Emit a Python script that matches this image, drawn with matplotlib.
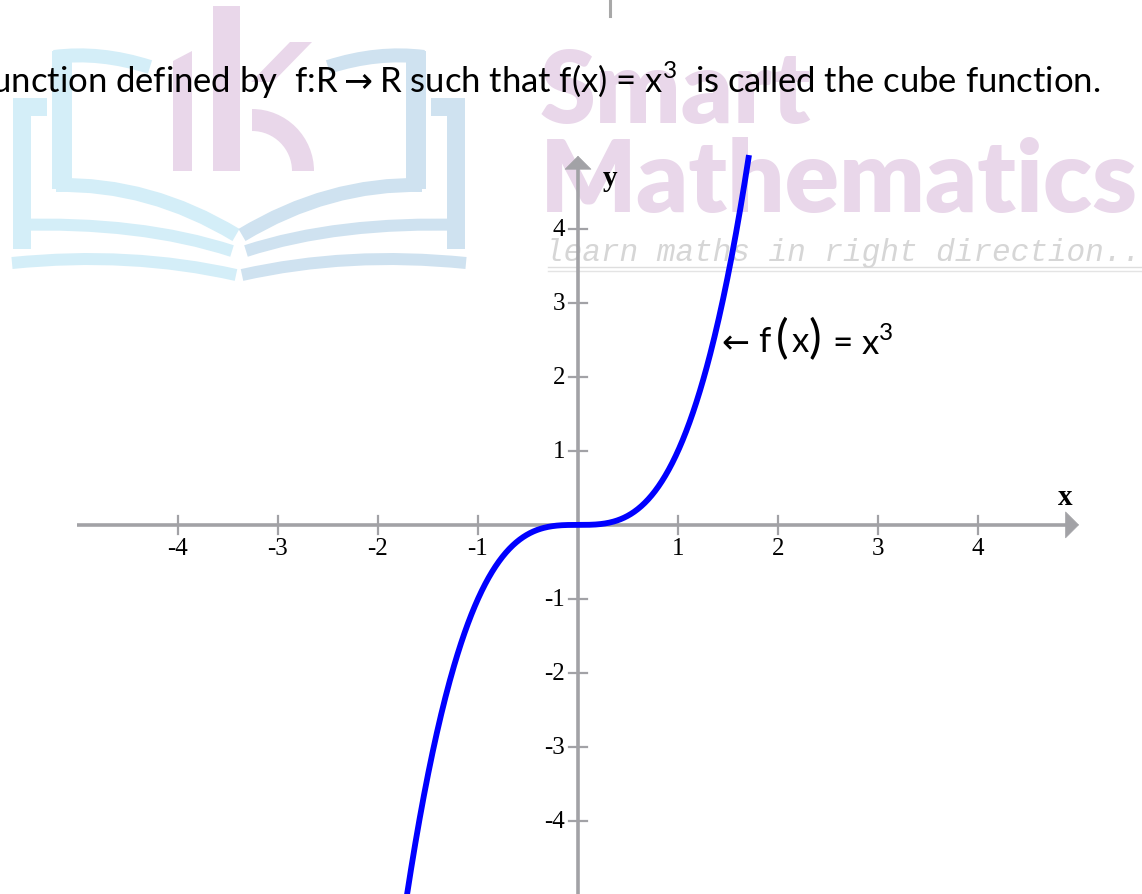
import numpy as np
import matplotlib.pyplot as plt
from matplotlib.patches import Polygon, Wedge, PathPatch
from matplotlib.path import Path

# f(x) = x^3, drawn over this x interval
x_start, x_end = -1.73, 1.71
x_ticks = [-4, -3, -2, -1, 1, 2, 3, 4]
y_ticks = [-4, -3, -2, -1, 1, 2, 3, 4]
x_axis_span = (-5.01, 5.01)
y_axis_span = (-5.1, 4.99)

sentence = (r"Function defined by  f:R$\rightarrow$R such that f(x) = x$^{\mathregular{3}}$"
            "  is called the cube function.")

axis_color = "#a2a2a6"
pink = "#e9d7ea"
cyan = "#d4eef8"
blue = "#cfe2f0"

fig = plt.figure(figsize=(11.42, 8.95), dpi=100)

# background layer in pixel units: logo watermark and the heading sentence
bg = fig.add_axes([0, 0, 1, 1])
bg.set_xlim(0, 1142)
bg.set_ylim(895, 0)
bg.axis('off')


def stroke(pts, color, width):
    # quadratic bezier segments through (start, control, end, control, end ...)
    codes = [Path.MOVETO] + [Path.CURVE3] * (len(pts) - 1)
    bg.add_patch(PathPatch(Path(pts, codes), fill=False, edgecolor=color,
                           lw=width * 0.72, capstyle='butt', joinstyle='miter'))


def bar(pts, color, width):
    bg.plot([p[0] for p in pts], [p[1] for p in pts], color=color,
            lw=width * 0.72, solid_capstyle='butt', solid_joinstyle='miter')


# open book, left page then mirrored right page
for side, col in ((1, cyan), (-1, blue)):
    m = lambda x: x if side == 1 else 478 - x
    bar([(m(47), 108), (m(22), 108), (m(22), 250)], col, 18)
    bar([(m(62), 52), (m(62), 190)], col, 20)
    stroke([(m(54), 58), (m(100), 52), (m(150), 68)], col, 14)
    stroke([(m(56), 186), (m(150), 184), (m(236), 236)], col, 14)
    stroke([(m(14), 226), (m(140), 222), (m(232), 252)], col, 12)
    stroke([(m(12), 264), (m(130), 252), (m(236), 276)], col, 12)

# letter mark on top of the book
bg.add_patch(Polygon([(213, 7), (240, 7), (240, 172), (213, 172)], color=pink, lw=0))
bg.add_patch(Polygon([(173, 62), (192, 52), (192, 172), (173, 172)], color=pink, lw=0))
bg.add_patch(Polygon([(290, 43), (312, 43), (273, 83), (251, 83)], color=pink, lw=0))
bg.add_patch(Wedge((252, 172), 62, 270, 360, width=22, color=pink, lw=0))

# watermark words
smart = bg.text(540, 123, "Smart", color=pink, fontsize=70, family='Lato',
                fontweight='heavy', va='baseline')
maths = bg.text(540, 212, "Mathematics", color=pink, fontsize=70, family='Lato',
                fontweight='heavy', va='baseline')
motto = bg.text(545, 261, "learn maths in right direction..", color="#d6d6d6",
                fontsize=22, family='Liberation Mono', style='italic', va='baseline')
bg.plot([548, 1142], [268, 268], color="#dedede", lw=1)
bg.plot([548, 1142], [272, 272], color="#e4e4e4", lw=1)

head = bg.text(1100, 93, sentence, fontsize=24, family='Lato',
               color='black', ha='right', va='baseline')

# small mark at the top edge
bg.plot([610, 610], [0, 17], color="#a8a8a8", lw=2.2)

# size the text to the widths they take up
fig.canvas.draw()
r = fig.canvas.get_renderer()
w = maths.get_window_extent(r).width
maths.set_fontsize(70 * 598 / w)
smart.set_fontsize(70 * 598 / w)
w = motto.get_window_extent(r).width
motto.set_fontsize(22 * 595 / w)
probe = bg.text(0, 0, sentence[1:], fontsize=24, family='Lato')
w = probe.get_window_extent(r).width
probe.remove()
head.set_fontsize(24 * 1112 / w)

# graph layer in data units
ax = fig.add_axes([0, 0, 1, 1])
ax.patch.set_alpha(0)
ax.set_xlim(-5.78, 5.64)
ax.set_ylim(-4.99, 7.11)
ax.axis('off')

arrow = dict(arrowstyle='-|>,head_length=0.62,head_width=0.62', color=axis_color,
             lw=0.5, mutation_scale=15, shrinkA=0, shrinkB=0)
ax.plot([x_axis_span[0], x_axis_span[1] - 0.1], [0, 0], color=axis_color, lw=2.6,
        solid_capstyle='butt')
ax.annotate('', xy=(x_axis_span[1], 0), xytext=(x_axis_span[1] - 0.15, 0), arrowprops=arrow)
ax.plot([0, 0], [y_axis_span[0], y_axis_span[1] - 0.12], color=axis_color, lw=2.6,
        solid_capstyle='butt')
ax.annotate('', xy=(0, y_axis_span[1]), xytext=(0, y_axis_span[1] - 0.2), arrowprops=arrow)

serif = 'Liberation Serif'
for t in x_ticks:
    ax.plot([t, t], [-0.125, 0.125], color=axis_color, lw=1.6)
    ax.text(t, -0.31, str(t), ha='center', va='center', fontsize=18, family=serif)
for t in y_ticks:
    ax.plot([-0.09, 0.09], [t, t], color=axis_color, lw=1.6)
    ax.text(-0.13, t, str(t), ha='right', va='center', fontsize=18, family=serif)

ax.text(4.87, 0.38, "x", fontsize=21, fontweight='bold', family=serif, ha='center', va='center')
ax.text(0.32, 4.70, "y", fontsize=21, fontweight='bold', family=serif, ha='center', va='center')

x = np.linspace(x_start, x_end, 400)
ax.plot(x, x ** 3, color='#0000ff', lw=4.2, solid_capstyle='butt')

# label of the curve, set piece by piece so the brackets can be taller
ly = 2.49
ax.text(1.545, ly, r"$\leftarrow$", fontsize=24, ha='center', va='center')
ax.text(1.80, ly, "f", fontsize=25, family='Lato', ha='left', va='center')
ax.text(2.04, ly + 0.03, "(", fontsize=34, family='Lato', ha='center', va='center')
ax.text(2.14, ly, "x", fontsize=25, family='Lato', ha='left', va='center')
ax.text(2.37, ly + 0.03, ")", fontsize=34, family='Lato', ha='center', va='center')
ax.text(2.54, ly - 0.02, r"= x$^{\mathregular{3}}$", fontsize=25, family='Lato',
        ha='left', va='center')

fig.savefig("out.png", dpi=100)
